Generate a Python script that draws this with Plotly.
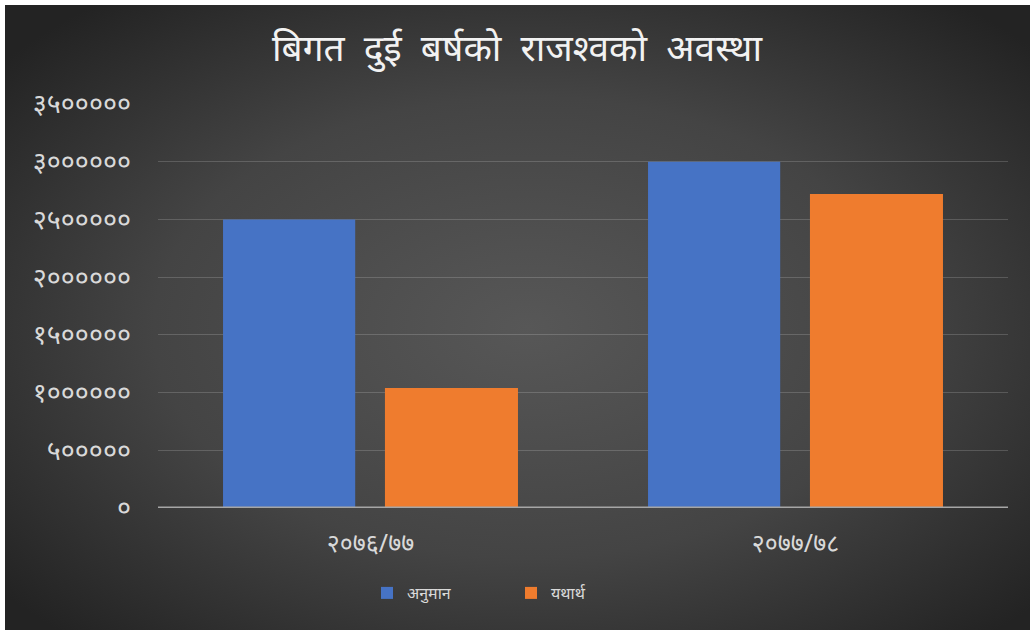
import base64
import plotly.graph_objects as go

# ---- data ----
categories = ["२०७६/७७", "२०७७/७८"]
series_names = ["अनुमान", "यथार्थ"]
estimate = [2500000, 3000000]
actual = [1040000, 2720000]
tick_values = [0, 500000, 1000000, 1500000, 2000000, 2500000, 3000000, 3500000]
tick_labels = ["०", "५०००००", "१००००००", "१५०००००", "२००००००", "२५०००००", "३००००००", "३५०००००"]
title_words = ["बिगत", "दुई", "बर्षको", "राजश्वको", "अवस्था"]

W, H = 1030, 630
ML, MR, MT, MB = 158, 22, 104, 122
PW, PH = W - ML - MR, H - MT - MB

FONT = "Noto Sans, Lato, DejaVu Sans, sans-serif"

svg = (
    '<svg xmlns="http://www.w3.org/2000/svg" width="1045" height="645" preserveAspectRatio="none">'
    '<defs><radialGradient id="g" cx="50%" cy="50%" r="65%">'
    '<stop offset="0" stop-color="#575757"/>'
    '<stop offset="0.55" stop-color="#444444"/>'
    '<stop offset="1" stop-color="#232323"/>'
    '</radialGradient></defs>'
    '<rect width="1045" height="645" fill="url(#g)"/></svg>'
)
bg_src = "data:image/svg+xml;base64," + base64.b64encode(svg.encode()).decode()

x_idx = list(range(len(categories)))

fig = go.Figure()
fig.add_trace(go.Bar(
    x=x_idx, y=estimate, name=series_names[0],
    marker=dict(color="#4673c5", line=dict(width=0)),
    width=0.311, offset=-0.347,
))
fig.add_trace(go.Bar(
    x=x_idx, y=actual, name=series_names[1],
    marker=dict(color="#ef7c2e", line=dict(width=0)),
    width=0.313, offset=0.034,
))

px = lambda v: (v - ML) / PW
py = lambda v: (MT + PH - v) / PH

fig.update_layout(
    width=W, height=H,
    margin=dict(l=ML, r=MR, t=MT, b=MB),
    paper_bgcolor="#242424",
    plot_bgcolor="rgba(0,0,0,0)",
    barmode="overlay",
    showlegend=True,
    font=dict(family=FONT, color="#d9d9d9"),
    title=dict(
        text="\u00a0\u00a0".join(title_words),
        x=517 / W, xanchor="center",
        y=1 - 48 / H, yanchor="middle",
        font=dict(size=37, color="#f2f2f2", family=FONT),
    ),
    legend=dict(
        orientation="h",
        x=px(367), xanchor="left",
        y=py(593), yanchor="middle",
        font=dict(size=16, color="#d9d9d9"),
        entrywidth=99, entrywidthmode="pixels",
        itemwidth=30,
        bgcolor="rgba(0,0,0,0)",
    ),
    xaxis=dict(
        tickvals=x_idx, ticktext=categories,
        range=[-0.5, len(categories) - 0.5],
        showgrid=False, zeroline=False, showline=False,
        tickfont=dict(size=25, color="#d9d9d9"),
        ticks="", ticklabelstandoff=18,
    ),
    yaxis=dict(
        range=[0, 3500000],
        tickvals=tick_values, ticktext=tick_labels,
        showgrid=True, gridcolor="rgba(255,255,255,0.17)", gridwidth=1,
        zeroline=False, showline=False,
        tickfont=dict(size=27, color="#d9d9d9"),
        ticks="", ticklabelstandoff=26,
    ),
    images=[dict(
        source=bg_src, xref="paper", yref="paper",
        x=px(5), y=py(5),
        sizex=(W + 15) / PW, sizey=(H + 15) / PH,
        xanchor="left", yanchor="top", sizing="stretch", layer="below",
    )],
    shapes=[
        dict(type="rect", xref="paper", yref="paper",
             x0=px(-2), x1=px(5), y0=py(-2), y1=py(H + 2),
             fillcolor="white", line=dict(width=0), layer="below"),
        dict(type="rect", xref="paper", yref="paper",
             x0=px(-2), x1=px(W + 2), y0=py(-2), y1=py(5),
             fillcolor="white", line=dict(width=0), layer="below"),
        dict(type="line", xref="paper", yref="y",
             x0=0, x1=1, y0=0, y1=0,
             line=dict(color="#a6a6a6", width=3), layer="above"),
    ],
)

fig.write_html(
    "out.html",
    config={"displayModeBar": False},
    post_script=(
        "document.body.style.margin='0px';"
        "document.body.style.background='#262626';"
        "document.documentElement.style.background='#262626';"
    ),
)
